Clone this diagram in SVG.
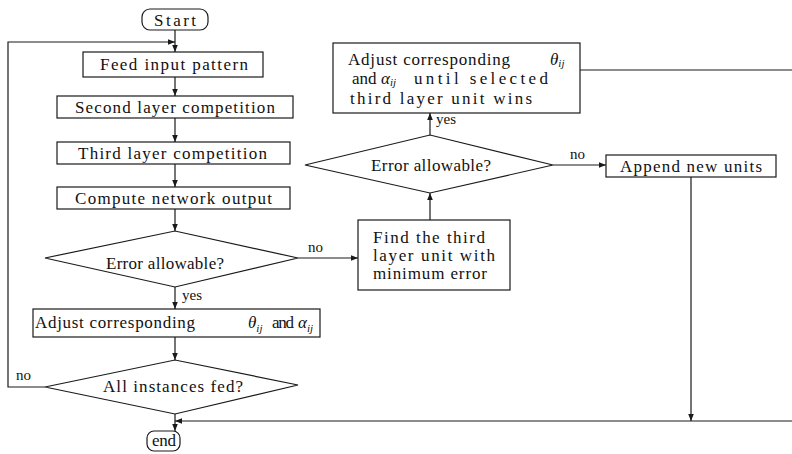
<svg xmlns="http://www.w3.org/2000/svg" width="792" height="454" viewBox="0 0 792 454">
  <style>
    .shape { fill: #ffffff; stroke: #1a1a1a; stroke-width: 1.2; }
    .line { fill: none; stroke: #1a1a1a; stroke-width: 1.2; }
    .t { font-family: "Liberation Serif", "DejaVu Serif", serif; font-size: 17px; fill: #111111; }
    .lbl { font-family: "Liberation Serif", "DejaVu Serif", serif; font-size: 15px; fill: #111111; }
    .g { font-style: italic; }
    .sub { font-size: 11px; font-style: italic; }
  </style>
  <defs>
    <marker id="arrow" viewBox="0 0 10 10" refX="10" refY="5" markerWidth="7" markerHeight="7" orient="auto" markerUnits="userSpaceOnUse">
      <path d="M0,1 L10,5 L0,9 Z" fill="#1a1a1a"/>
    </marker>
  </defs>
  <rect width="792" height="454" fill="#ffffff"/>

  <!-- connectors -->
  <g id="connectors">
    <line class="line" x1="175" y1="30" x2="175" y2="52" marker-end="url(#arrow)"/>
    <polyline class="line" points="45,387 8,387 8,42 175,42" marker-end="url(#arrow)"/>
    <line class="line" x1="175" y1="77" x2="175" y2="96" marker-end="url(#arrow)"/>
    <line class="line" x1="175" y1="118" x2="175" y2="142" marker-end="url(#arrow)"/>
    <line class="line" x1="175" y1="164" x2="175" y2="187" marker-end="url(#arrow)"/>
    <line class="line" x1="175" y1="209" x2="175" y2="231" marker-end="url(#arrow)"/>
    <line class="line" x1="175" y1="287" x2="175" y2="309" marker-end="url(#arrow)"/>
    <line class="line" x1="298" y1="258" x2="358" y2="258" marker-end="url(#arrow)"/>
    <line class="line" x1="175" y1="337" x2="175" y2="360" marker-end="url(#arrow)"/>
    <line class="line" x1="175" y1="414" x2="175" y2="431" marker-end="url(#arrow)"/>
    <line class="line" x1="430" y1="220" x2="430" y2="193" marker-end="url(#arrow)"/>
    <line class="line" x1="430" y1="135" x2="430" y2="113" marker-end="url(#arrow)"/>
    <line class="line" x1="553" y1="165" x2="606" y2="165" marker-end="url(#arrow)"/>
    <line class="line" x1="580" y1="70" x2="792" y2="70"/>
    <line class="line" x1="691" y1="177" x2="691" y2="421" marker-end="url(#arrow)"/>
    <line class="line" x1="792" y1="421" x2="175" y2="421" marker-end="url(#arrow)"/>
    <text class="lbl" x="308" y="252">no</text>
    <text class="lbl" x="182" y="300">yes</text>
    <text class="lbl" x="16" y="380">no</text>
    <text class="lbl" x="436" y="124">yes</text>
    <text class="lbl" x="570" y="159">no</text>
  </g>

  <g id="start">
    <rect class="shape" x="142" y="9" width="66" height="21" rx="8"/>
    <text class="t" x="154" y="26" textLength="42">Start</text>
  </g>

  <g id="feed">
    <rect class="shape" x="83" y="52" width="180" height="25"/>
    <text class="t" x="100" y="70" textLength="148">Feed input pattern</text>
  </g>

  <g id="second">
    <rect class="shape" x="57" y="96" width="236" height="22"/>
    <text class="t" x="75" y="113" textLength="200">Second layer competition</text>
  </g>

  <g id="third">
    <rect class="shape" x="57" y="142" width="233" height="22"/>
    <text class="t" x="78" y="159" textLength="189">Third layer competition</text>
  </g>

  <g id="compute">
    <rect class="shape" x="57" y="187" width="233" height="22"/>
    <text class="t" x="75" y="204" textLength="197">Compute network output</text>
  </g>

  <g id="error1">
    <polygon class="shape" points="45,258 175,231 298,258 175,287"/>
    <text class="t" x="106" y="269" textLength="118">Error allowable?</text>
  </g>

  <g id="adjust1">
    <rect class="shape" x="33" y="309" width="287" height="28"/>
    <text class="t" x="35" y="328" textLength="160">Adjust corresponding</text>
    <text class="t" x="248" y="328"><tspan class="g">θ</tspan><tspan class="sub" dy="4">ij</tspan></text>
    <text class="t" x="272" y="328" textLength="22">and</text>
    <text class="t" x="298" y="328"><tspan class="g">α</tspan><tspan class="sub" dy="4">ij</tspan></text>
  </g>

  <g id="allfed">
    <polygon class="shape" points="45,387 175,360 298,385 175,414"/>
    <text class="t" x="103" y="392" textLength="140">All instances fed?</text>
  </g>

  <g id="end">
    <rect class="shape" x="147" y="431" width="33" height="20" rx="7"/>
    <text class="t" x="152" y="446" textLength="24">end</text>
  </g>

  <g id="adjust2">
    <rect class="shape" x="333" y="43" width="247" height="70"/>
    <text class="t" x="348" y="65" textLength="162">Adjust corresponding</text>
    <text class="t" x="550" y="65"><tspan class="g">θ</tspan><tspan class="sub" dy="2">ij</tspan></text>
    <text class="t" x="352" y="84">and</text>
    <text class="t" x="381" y="84"><tspan class="g">α</tspan><tspan class="sub" dy="2">ij</tspan></text>
    <text class="t" x="414" y="84" textLength="134">until selected</text>
    <text class="t" x="350" y="104" textLength="182">third layer unit wins</text>
  </g>

  <g id="error2">
    <polygon class="shape" points="305,165 430,135 553,165 430,193"/>
    <text class="t" x="371" y="171" textLength="120">Error allowable?</text>
  </g>

  <g id="find">
    <rect class="shape" x="358" y="220" width="152" height="70"/>
    <text class="t" x="373" y="243" textLength="112">Find the third</text>
    <text class="t" x="373" y="261" textLength="122">layer unit with</text>
    <text class="t" x="373" y="279" textLength="114">minimum error</text>
  </g>

  <g id="append">
    <rect class="shape" x="606" y="155" width="170" height="22"/>
    <text class="t" x="620" y="172" textLength="142">Append new units</text>
  </g>
</svg>
